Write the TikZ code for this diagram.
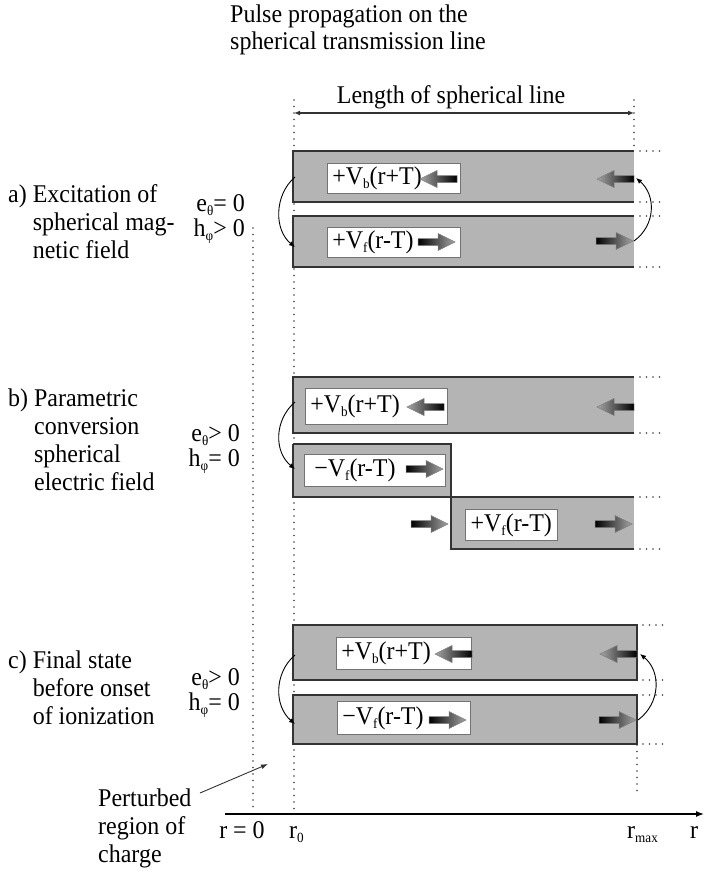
\documentclass[tikz,border=0pt]{standalone}
\usepackage{fontspec}
\setmainfont{Liberation Serif}[FakeStretch=0.94]
\usetikzlibrary{arrows.meta}
\definecolor{bandgray}{RGB}{180,180,180}
\newcommand{\lowsub}[1]{\raisebox{-0.38ex}{\fontsize{14}{14}\selectfont #1}}
\begin{document}
\begin{tikzpicture}[x=1pt,y=-1pt,
  txt/.style={font=\fontsize{25.5}{28}\selectfont, inner sep=0pt, anchor=base west, align=left},
  eh/.style={font=\fontsize{25.5}{24.5}\selectfont, inner sep=0pt, anchor=base east, align=right},
  band/.style={fill=bandgray},
  rim/.style={draw=black!80, line width=1.3pt},
  lbox/.style={fill=white, draw=black!55, line width=0.6pt, inner xsep=5pt, inner ysep=0pt, anchor=west, align=left, font=\fontsize{25.5}{28}\selectfont},
  dotline/.style={draw=black!75, line width=1.6pt, line cap=round, dash pattern=on 0pt off 6.5pt},
  curved/.style={draw=black, line width=0.9pt, -{Latex[length=6pt,width=5pt]}},
  barrowR/.pic={\shade[left color=black, middle color=white, right color=black!35, draw=black!50, line width=0.5pt]
     (-19,-3.5) -- (1,-3.5) -- (1,-8.5) -- (18,0) -- (1,8.5) -- (1,3.5) -- (-19,3.5) -- cycle;},
  barrowL/.pic={\shade[left color=black!35, middle color=white, right color=black, draw=black!50, line width=0.5pt]
     (19,-3.5) -- (-1,-3.5) -- (-1,-8.5) -- (-18,0) -- (-1,8.5) -- (-1,3.5) -- (19,3.5) -- cycle;},
]
\useasboundingbox (0,0) rectangle (704,872);

% ---------- dotted reference lines ----------
\draw[dotline] (253,228) -- (253,808);
\draw[dotline] (294,100) -- (294,812);
\draw[dotline] (634,100) -- (634,151);
\draw[dotline] (637,745) -- (637,797);

% ---------- title & dimension ----------
\node[txt, font=\fontsize{25.5}{27}\selectfont] (title) at (230,50) {Pulse propagation on the\\spherical transmission line};
\node[txt, anchor=base] (lenlbl) at (451,103) {Length of spherical line};
\coordinate (d1) at (294,113);
\coordinate (d2) at (634,113);
\draw[black!80, line width=1.2pt, {Latex[length=6pt,width=5pt]}-{Latex[length=6pt,width=5pt]}] (d1) -- (d2);

% ---------- section a ----------
\fill[band] (293,151) rectangle (634,202);
\fill[band] (293,216) rectangle (634,267);
\draw[rim] (634,151) -- (293,151) -- (293,202) -- (634,202);
\draw[rim] (634,216) -- (293,216) -- (293,267) -- (634,267);
\foreach \yy in {151,202,216,267} \draw[dotline] (640,\yy) -- (662,\yy);
\node[lbox, text width=123pt, minimum height=30pt] (la1) at (327,178) {+V\lowsub{b}(r+T)};
\node[lbox, text width=123pt, minimum height=30pt] (la2) at (327,242) {+V\lowsub{f}(r-T)};
\pic at (438,179) {barrowL};
\pic at (437,242) {barrowR};
\pic at (615,179) {barrowL};
\pic at (615,241) {barrowR};
\coordinate (a1s) at (295,177);
\coordinate (a1e) at (295,247);
\coordinate (a2s) at (634,241);
\coordinate (a2e) at (636,178);
\draw[curved] (a1s) .. controls (274,195) and (274,230) .. (a1e);
\draw[curved] (a2s) .. controls (656,225) and (656,195) .. (a2e);
\node[txt] (lbla) at (8,258) {a) Excitation of\\\hphantom{a) }spherical mag-\\\hphantom{a) }netic field};
\node[eh] (eha) at (245,236) {e\lowsub{θ}= 0\\h\lowsub{φ}> 0};

% ---------- section b ----------
\fill[band] (293,377) rectangle (634,433);
\fill[band] (293,444) rectangle (451,497);
\fill[band] (451,497) rectangle (634,549);
\draw[rim] (634,377) -- (293,377) -- (293,433) -- (634,433);
\draw[rim] (293,444) -- (451,444) -- (451,549) -- (634,549);
\draw[rim] (293,444) -- (293,497) -- (634,497);
\foreach \yy in {377,433,497,549} \draw[dotline] (640,\yy) -- (662,\yy);
\node[lbox, text width=132pt, minimum height=36pt] (lb1) at (305,406) {+V\lowsub{b}(r+T)};
\node[lbox, text width=131pt, minimum height=32pt] (lb2) at (304,470) {\hspace{5pt}−V\lowsub{f}(r-T)};
\node[lbox, minimum width=92pt, minimum height=31pt, inner xsep=3pt] (lb3) at (465,525) {+V\lowsub{f}(r-T)};
\pic at (425,407) {barrowL};
\pic at (425,469) {barrowR};
\pic at (430,524) {barrowR};
\pic at (615,407) {barrowL};
\pic at (614,524) {barrowR};
\coordinate (b1s) at (295,402);
\coordinate (b1e) at (295,469);
\draw[curved] (b1s) .. controls (274,420) and (274,452) .. (b1e);
\node[txt] (lblb) at (8,490) {b) Parametric\\\hphantom{b) }conversion\\\hphantom{b) }spherical\\\hphantom{b) }electric field};
\node[eh] (ehb) at (240,466) {e\lowsub{θ}> 0\\h\lowsub{φ}= 0};

% ---------- section c ----------
\fill[band] (293,625) rectangle (637,680);
\fill[band] (293,695) rectangle (637,744);
\draw[rim] (293,625) rectangle (637,680);
\draw[rim] (293,695) rectangle (637,744);
\foreach \yy in {625,680,695,744} \draw[dotline] (643,\yy) -- (665,\yy);
\node[lbox, text width=125pt, minimum height=32pt] (lc1) at (336,653) {+V\lowsub{b}(r+T)};
\node[lbox, text width=123pt, minimum height=33pt] (lc2) at (337,718) {−V\lowsub{f}(r-T)};
\pic at (453,654) {barrowL};
\pic at (448,720) {barrowR};
\pic at (618,654) {barrowL};
\pic at (618,720) {barrowR};
\coordinate (c1s) at (295,655);
\coordinate (c1e) at (295,724);
\coordinate (c2s) at (638,720);
\coordinate (c2e) at (640,654);
\draw[curved] (c1s) .. controls (274,673) and (274,706) .. (c1e);
\draw[curved] (c2s) .. controls (661,703) and (661,671) .. (c2e);
\node[txt] (lblc) at (8,724) {c) Final state\\\hphantom{c) }before onset\\\hphantom{c) }of ionization};
\node[eh] (ehc) at (240,710) {e\lowsub{θ}> 0\\h\lowsub{φ}= 0};

% ---------- perturbed region & axis ----------
\node[txt] (pert) at (98,862) {Perturbed\\region of\\charge};
\coordinate (pa) at (200,793);
\coordinate (pb) at (268,764);
\draw[black!80, line width=0.9pt, -{Latex[length=7pt,width=5pt]}] (pa) -- (pb);
\coordinate (ax1) at (225,814);
\coordinate (ax2) at (704,814);
\draw[black, line width=1.3pt, -{Latex[length=8pt,width=6pt]}] (ax1) -- (ax2);
\node[txt, anchor=base] (r0lbl) at (242,838) {r = 0};
\node[txt] (rzero) at (289,838) {r\lowsub{0}};
\node[txt] (rmax) at (627,838) {r\lowsub{max}};
\node[txt] (rlbl) at (690,838) {r};
\end{tikzpicture}
\end{document}
